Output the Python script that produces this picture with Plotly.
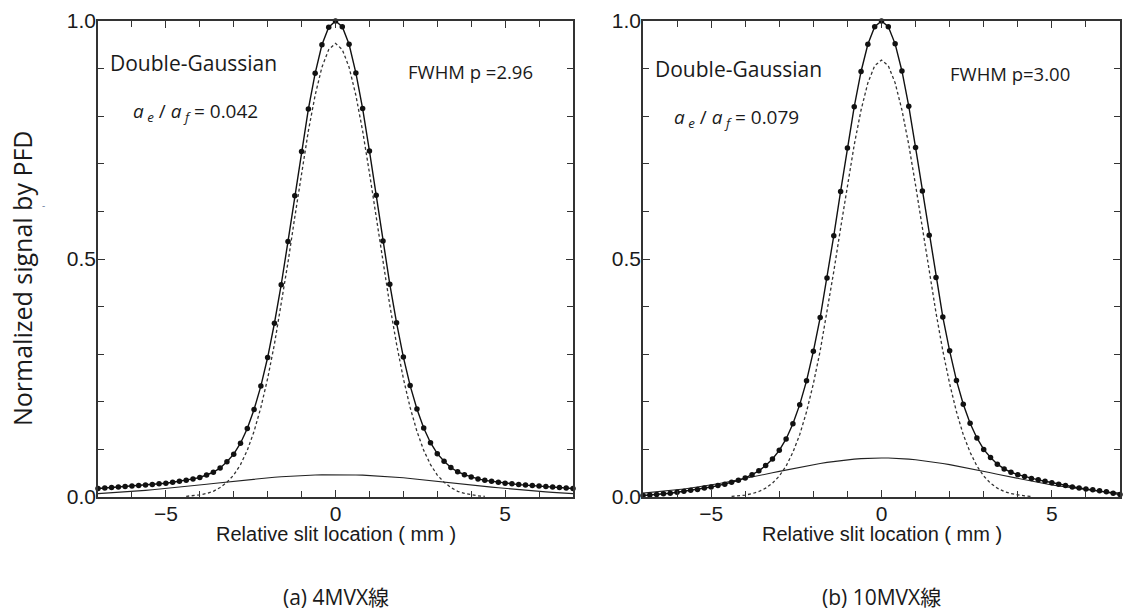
import plotly.graph_objects as go

# ---------------- data ----------------
x_mm = [-7.0, -6.8, -6.6, -6.4, -6.2, -6.0, -5.8, -5.6, -5.4, -5.2, -5.0, -4.8, -4.6, -4.4, -4.2,
        -4.0, -3.8, -3.6, -3.4, -3.2, -3.0, -2.8, -2.6, -2.4, -2.2, -2.0, -1.8, -1.6, -1.4, -1.2,
        -1.0, -0.8, -0.6, -0.4, -0.2, 0.0, 0.2, 0.4, 0.6, 0.8, 1.0, 1.2, 1.4, 1.6, 1.8,
        2.0, 2.2, 2.4, 2.6, 2.8, 3.0, 3.2, 3.4, 3.6, 3.8, 4.0, 4.2, 4.4, 4.6, 4.8,
        5.0, 5.2, 5.4, 5.6, 5.8, 6.0, 6.2, 6.4, 6.6, 6.8, 7.0]

# (a) 4MV
a_measured = [0.018, 0.019, 0.020, 0.021, 0.022, 0.023, 0.024, 0.025, 0.026, 0.028, 0.029, 0.031, 0.033, 0.035, 0.038,
              0.041, 0.046, 0.052, 0.061, 0.074, 0.090, 0.113, 0.144, 0.184, 0.233, 0.293, 0.365, 0.446, 0.537, 0.633,
              0.726, 0.815, 0.890, 0.950, 0.987, 1.000, 0.988, 0.951, 0.891, 0.816, 0.727, 0.634, 0.538, 0.447, 0.366,
              0.294, 0.234, 0.185, 0.145, 0.114, 0.091, 0.075, 0.062, 0.053, 0.047, 0.042, 0.038, 0.035, 0.033, 0.031,
              0.029, 0.028, 0.026, 0.025, 0.024, 0.023, 0.022, 0.021, 0.020, 0.019, 0.018]
a_primary = [0.0014, 0.0025, 0.0044, 0.0075, 0.012, 0.020, 0.031, 0.046, 0.068, 0.098, 0.138, 0.188, 0.249, 0.321, 0.403,
             0.493, 0.588, 0.681, 0.769, 0.844, 0.903, 0.940, 0.953, 0.940, 0.903, 0.844, 0.769, 0.681, 0.588, 0.493,
             0.403, 0.321, 0.249, 0.188, 0.138, 0.098, 0.068, 0.046, 0.031, 0.020, 0.012, 0.0075, 0.0044, 0.0025, 0.0014]
a_extended = [0.0071, 0.0079, 0.0087, 0.0097, 0.0107, 0.0117, 0.0128, 0.0140, 0.0152, 0.0165, 0.0179, 0.0193, 0.0208, 0.0223, 0.0238,
              0.0254, 0.0269, 0.0285, 0.0301, 0.0317, 0.0332, 0.0347, 0.0362, 0.0376, 0.0390, 0.0403, 0.0415, 0.0426, 0.0436, 0.0445,
              0.0452, 0.0459, 0.0463, 0.0467, 0.0469, 0.0470, 0.0469, 0.0467, 0.0463, 0.0459, 0.0452, 0.0445, 0.0436, 0.0426, 0.0415,
              0.0403, 0.0390, 0.0376, 0.0362, 0.0347, 0.0332, 0.0317, 0.0301, 0.0285, 0.0269, 0.0254, 0.0238, 0.0223, 0.0208, 0.0193,
              0.0179, 0.0165, 0.0152, 0.0140, 0.0128, 0.0117, 0.0107, 0.0097, 0.0087, 0.0079, 0.0071]

# (b) 10MV
b_measured = [0.003, 0.004, 0.005, 0.007, 0.008, 0.010, 0.012, 0.014, 0.016, 0.019, 0.021, 0.024, 0.027, 0.031, 0.035,
              0.040, 0.047, 0.055, 0.066, 0.080, 0.098, 0.122, 0.154, 0.194, 0.244, 0.306, 0.377, 0.460, 0.549, 0.642,
              0.733, 0.820, 0.894, 0.951, 0.988, 1.000, 0.988, 0.952, 0.895, 0.821, 0.734, 0.643, 0.550, 0.461, 0.378,
              0.307, 0.245, 0.195, 0.155, 0.124, 0.100, 0.083, 0.069, 0.059, 0.052, 0.047, 0.043, 0.039, 0.036, 0.033,
              0.030, 0.027, 0.024, 0.021, 0.019, 0.017, 0.015, 0.013, 0.011, 0.008, 0.005]
b_primary = [0.0013, 0.0024, 0.0041, 0.0070, 0.0116, 0.0185, 0.029, 0.044, 0.065, 0.094, 0.131, 0.179, 0.238, 0.307, 0.387,
             0.474, 0.565, 0.655, 0.740, 0.813, 0.870, 0.906, 0.918, 0.906, 0.870, 0.813, 0.740, 0.655, 0.565, 0.474,
             0.387, 0.307, 0.238, 0.179, 0.131, 0.094, 0.065, 0.044, 0.029, 0.0185, 0.0116, 0.0070, 0.0041, 0.0024, 0.0013]
b_extended = [0.0082, 0.0094, 0.0106, 0.0120, 0.0135, 0.0151, 0.0169, 0.0188, 0.0208, 0.0230, 0.0253, 0.0278, 0.0304, 0.0331, 0.0359,
              0.0387, 0.0417, 0.0447, 0.0477, 0.0508, 0.0538, 0.0568, 0.0598, 0.0626, 0.0654, 0.0680, 0.0704, 0.0727, 0.0748, 0.0766,
              0.0782, 0.0796, 0.0806, 0.0814, 0.0818, 0.0820, 0.0818, 0.0814, 0.0806, 0.0796, 0.0782, 0.0766, 0.0748, 0.0727, 0.0704,
              0.0680, 0.0654, 0.0626, 0.0598, 0.0568, 0.0538, 0.0508, 0.0477, 0.0447, 0.0417, 0.0387, 0.0359, 0.0331, 0.0304, 0.0278,
              0.0253, 0.0230, 0.0208, 0.0188, 0.0169, 0.0151, 0.0135, 0.0120, 0.0106, 0.0094, 0.0082]

x_ticks = [-5, 0, 5]
y_ticks = [0.0, 0.5, 1.0]
y_ticktext = ["0.0", "0.5", "1.0"]
panel_ratio = ["0.042", "0.079"]
panel_fwhm = ["FWHM p =2.96", "FWHM p=3.00"]
panel_caption = ["(a) 4MVX線", "(b) 10MVX線"]

# ---------------- figure ----------------
W, H = 1125, 612
fig = go.Figure()

primary_x = x_mm[13:58]
panels = [
    ("x", "y", a_measured, a_primary, a_extended),
    ("x2", "y2", b_measured, b_primary, b_extended),
]
for xa, ya, meas, prim, ext in panels:
    fig.add_trace(go.Scatter(x=x_mm, y=ext, xaxis=xa, yaxis=ya, mode="lines",
                             line=dict(color="#222", width=1.1), showlegend=False))
    fig.add_trace(go.Scatter(x=primary_x, y=prim, xaxis=xa, yaxis=ya, mode="lines",
                             line=dict(color="#333", width=1.3, dash="3px,2.5px"), showlegend=False))
    fig.add_trace(go.Scatter(x=x_mm, y=meas, xaxis=xa, yaxis=ya, mode="lines+markers",
                             line=dict(color="#111", width=1.4),
                             marker=dict(color="#111", size=5.5, symbol="circle"),
                             cliponaxis=False, showlegend=False))

tickfont = dict(family="Liberation Sans, Arial, sans-serif", size=21, color="#1a1a1a")
axis_common = dict(showline=True, linecolor="#333", linewidth=1.6, mirror="ticks",
                   ticks="inside", ticklen=7, tickwidth=1.2, tickcolor="#333",
                   showgrid=False, zeroline=False, tickfont=tickfont, automargin=False)

def px2fx(px):
    return px / W

def py2fy(py):
    return 1 - py / H

dom_a = [px2fx(98), px2fx(573)]
dom_b = [px2fx(643), px2fx(1120)]
dom_y = [py2fy(497), py2fy(21)]

for i, (xn, yn, dom) in enumerate([("xaxis", "yaxis", dom_a), ("xaxis2", "yaxis2", dom_b)]):
    suffix = "" if i == 0 else "2"
    fig.layout[xn] = dict(axis_common, domain=dom, range=[-7, 7], tickvals=x_ticks,
                          ticklabelstandoff=-3,
                          minor=dict(dtick=1, tick0=0, ticks="inside", ticklen=6,
                                     tickwidth=1.1, tickcolor="#333"),
                          anchor="y" + suffix)
    fig.layout[yn] = dict(axis_common, domain=dom_y, range=[0, 1], tickvals=y_ticks,
                          ticktext=y_ticktext, ticklabelstandoff=-4,
                          minor=dict(dtick=0.1, tick0=0, ticks="inside", ticklen=6,
                                     tickwidth=1.1, tickcolor="#333"),
                          anchor="x" + suffix)

calibri = "Open Sans, Noto Sans, sans-serif"
ann = []
# y title
ann.append(dict(x=px2fx(22), y=py2fy(278), xref="paper", yref="paper", text="Normalized signal by PFD",
                xanchor="center", yanchor="middle",
                textangle=-90, showarrow=False, font=dict(family=calibri, size=25, color="#1a1a1a")))
ann.append(dict(x=px2fx(43), y=py2fy(205), xref="paper", yref="paper", text="-",
                xanchor="center", yanchor="middle",
                showarrow=False, font=dict(family=calibri, size=10, color="#6a7fa0")))
centers = [335.5, 881.5]
dg_pos = [(108, 63), (653, 69)]
ratio_pos = [(131, 112), (672, 118)]
fwhm_pos = [(406, 71), (948, 73)]
for i in range(2):
    ann.append(dict(x=px2fx(centers[i]), y=py2fy(534), xref="paper", yref="paper",
                    xanchor="center", yanchor="middle",
                    text="Relative slit location ( mm )", showarrow=False,
                    font=dict(family="Liberation Sans, Arial, sans-serif", size=20, color="#1a1a1a")))
    ann.append(dict(x=px2fx(centers[i]), y=py2fy(597), xref="paper", yref="paper",
                    xanchor="center", yanchor="middle",
                    text=panel_caption[i], showarrow=False,
                    font=dict(family="Open Sans, Noto Sans CJK JP, sans-serif", size=21, color="#1a1a1a")))
    ann.append(dict(x=px2fx(dg_pos[i][0]), y=py2fy(dg_pos[i][1]), xref="paper", yref="paper",
                    xanchor="left", yanchor="middle", text="Double-Gaussian", showarrow=False,
                    font=dict(family=calibri, size=21, color="#1a1a1a")))
    ann.append(dict(x=px2fx(ratio_pos[i][0]), y=py2fy(ratio_pos[i][1]), xref="paper", yref="paper",
                    xanchor="left", yanchor="middle",
                    text="<i>a</i><sub><i> e</i></sub> / <i>a</i><sub><i> f</i></sub> = " + panel_ratio[i],
                    showarrow=False, font=dict(family=calibri, size=19, color="#1a1a1a")))
    ann.append(dict(x=px2fx(fwhm_pos[i][0]), y=py2fy(fwhm_pos[i][1]), xref="paper", yref="paper",
                    xanchor="left", yanchor="middle", text=panel_fwhm[i], showarrow=False,
                    font=dict(family=calibri, size=18.5, color="#1a1a1a")))

fig.update_layout(width=W, height=H, margin=dict(l=0, r=0, t=0, b=0, autoexpand=False),
                  paper_bgcolor="white", plot_bgcolor="white", annotations=ann,
                  showlegend=False)

fig.write_html("out.html", config={"displayModeBar": False},
               post_script="document.body.style.margin='0';document.body.style.overflow='hidden';")
